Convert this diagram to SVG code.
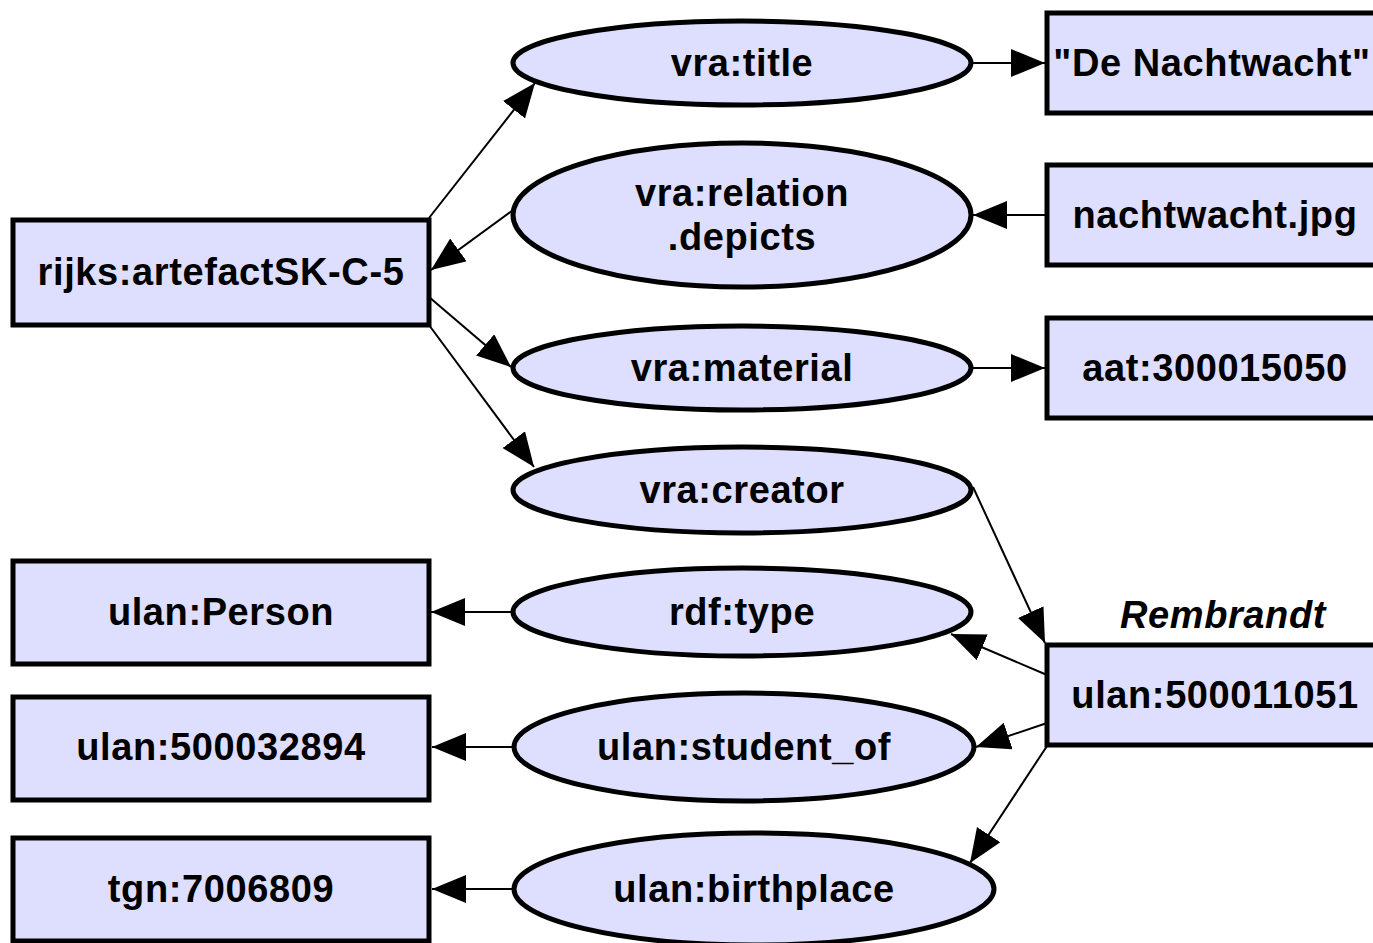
<svg xmlns="http://www.w3.org/2000/svg" width="1373" height="943" viewBox="0 0 1373 943">
<defs>
<marker id="ah" markerUnits="userSpaceOnUse" markerWidth="36" markerHeight="30" refX="34" refY="14" orient="auto">
<path d="M0,0 L34,14 L0,28 z" fill="#000"/>
</marker>
<style>
.n{fill:#dedeff;stroke:#000;stroke-width:5}
.t{font-family:"Liberation Sans",Arial,sans-serif;font-weight:bold;font-size:38px;letter-spacing:0.6px;text-anchor:middle;fill:#000}
.e{stroke:#000;stroke-width:2;fill:none;marker-end:url(#ah)}
</style>
</defs>
<rect width="1373" height="943" fill="#fff"/>
<g id="connectors">
<line class="e" x1="429" y1="218" x2="535" y2="83"/>
<line class="e" x1="513" y1="210" x2="431" y2="270"/>
<line class="e" x1="429" y1="297" x2="511" y2="367"/>
<line class="e" x1="429" y1="325" x2="534" y2="467"/>
<line class="e" x1="972" y1="63" x2="1045" y2="63"/>
<line class="e" x1="1047" y1="215" x2="973" y2="215"/>
<line class="e" x1="972" y1="368" x2="1045" y2="368"/>
<line class="e" x1="973" y1="487" x2="1045" y2="643"/>
<line class="e" x1="1047" y1="675" x2="951" y2="634"/>
<line class="e" x1="1047" y1="723" x2="976" y2="747"/>
<line class="e" x1="1047" y1="746" x2="970" y2="863"/>
<line class="e" x1="513" y1="612" x2="431" y2="612"/>
<line class="e" x1="515" y1="747" x2="432" y2="747"/>
<line class="e" x1="513" y1="889" x2="432" y2="889"/>
</g>
<g id="rijks"><rect class="n" x="13" y="220" width="416" height="105"/><text class="t" x="221" y="285">rijks:artefactSK-C-5</text></g>
<g id="vra-title"><ellipse class="n" cx="742" cy="63" rx="229" ry="42"/><text class="t" x="742" y="76">vra:title</text></g>
<g id="vra-relation"><ellipse class="n" cx="742" cy="215" rx="229" ry="72"/><text class="t" x="742" y="206">vra:relation</text><text class="t" x="742" y="250">.depicts</text></g>
<g id="vra-material"><ellipse class="n" cx="742" cy="368" rx="229" ry="42"/><text class="t" x="742" y="381">vra:material</text></g>
<g id="vra-creator"><ellipse class="n" cx="742" cy="490" rx="229" ry="43"/><text class="t" x="742" y="503">vra:creator</text></g>
<g id="rdf-type"><ellipse class="n" cx="742" cy="612" rx="229" ry="44"/><text class="t" x="742" y="625">rdf:type</text></g>
<g id="ulan-student_of"><ellipse class="n" cx="744" cy="747" rx="230" ry="54"/><text class="t" x="744" y="760">ulan:student_of</text></g>
<g id="ulan-birthplace"><ellipse class="n" cx="754" cy="889" rx="240" ry="56"/><text class="t" x="754" y="902">ulan:birthplace</text></g>
<g id="nachtwacht-title"><rect class="n" x="1047" y="13" width="340" height="100"/><text class="t" x="1212" y="76">"De Nachtwacht"</text></g>
<g id="nachtwacht-jpg"><rect class="n" x="1047" y="165" width="340" height="100"/><text class="t" x="1215" y="228">nachtwacht.jpg</text></g>
<g id="aat"><rect class="n" x="1047" y="318" width="340" height="100"/><text class="t" x="1215" y="381">aat:300015050</text></g>
<g id="ulan-500011051"><text class="t" x="1223" y="628" font-style="italic">Rembrandt</text><rect class="n" x="1047" y="645" width="340" height="100"/><text class="t" x="1215" y="708">ulan:500011051</text></g>
<g id="ulan-person"><rect class="n" x="13" y="561" width="416" height="103"/><text class="t" x="221" y="625">ulan:Person</text></g>
<g id="ulan-500032894"><rect class="n" x="13" y="697" width="416" height="103"/><text class="t" x="221" y="760">ulan:500032894</text></g>
<g id="tgn"><rect class="n" x="13" y="838" width="416" height="103"/><text class="t" x="221" y="902">tgn:7006809</text></g>
</svg>
